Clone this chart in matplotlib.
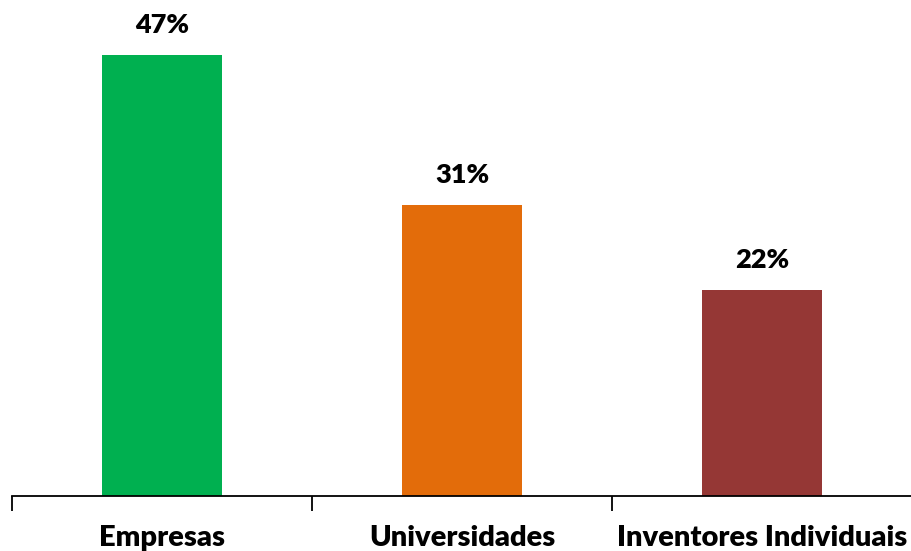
import matplotlib.pyplot as plt

categorias = ['Empresas', 'Universidades', 'Inventores Individuais']
percentuais = [47, 31, 22]
cores = ['#00B050', '#E36C0A', '#953735']

plt.rcParams['font.family'] = ['Lato', 'DejaVu Sans']

fig = plt.figure(figsize=(9.12, 5.51), dpi=100)
ax = fig.add_axes([12 / 912, 55 / 551, 900 / 912, 469 / 551])

x = range(len(categorias))
barras = ax.bar(x, percentuais, width=0.4, color=cores)

for b, v in zip(barras, percentuais):
    ax.text(b.get_x() + b.get_width() / 2, v + 2.35, f'{v}%',
            ha='center', va='baseline', fontsize=19.5, fontweight='heavy')

ax.set_xlim(-0.5, 2.5)
ax.set_ylim(0, 50)

for s in ['top', 'right', 'left']:
    ax.spines[s].set_visible(False)
ax.spines['bottom'].set_linewidth(1.3)
ax.set_yticks([])

# ticks between categories, labels centered under bars
ax.set_xticks([-0.5, 0.5, 1.5, 2.5])
ax.set_xticklabels([])
ax.tick_params(axis='x', length=11, width=1.3, direction='out')
for i, c in enumerate(categorias):
    ax.text(i, -5.3, c, ha='center', va='baseline', fontsize=21, fontweight='heavy')

fig.savefig('out.png', dpi=100)
